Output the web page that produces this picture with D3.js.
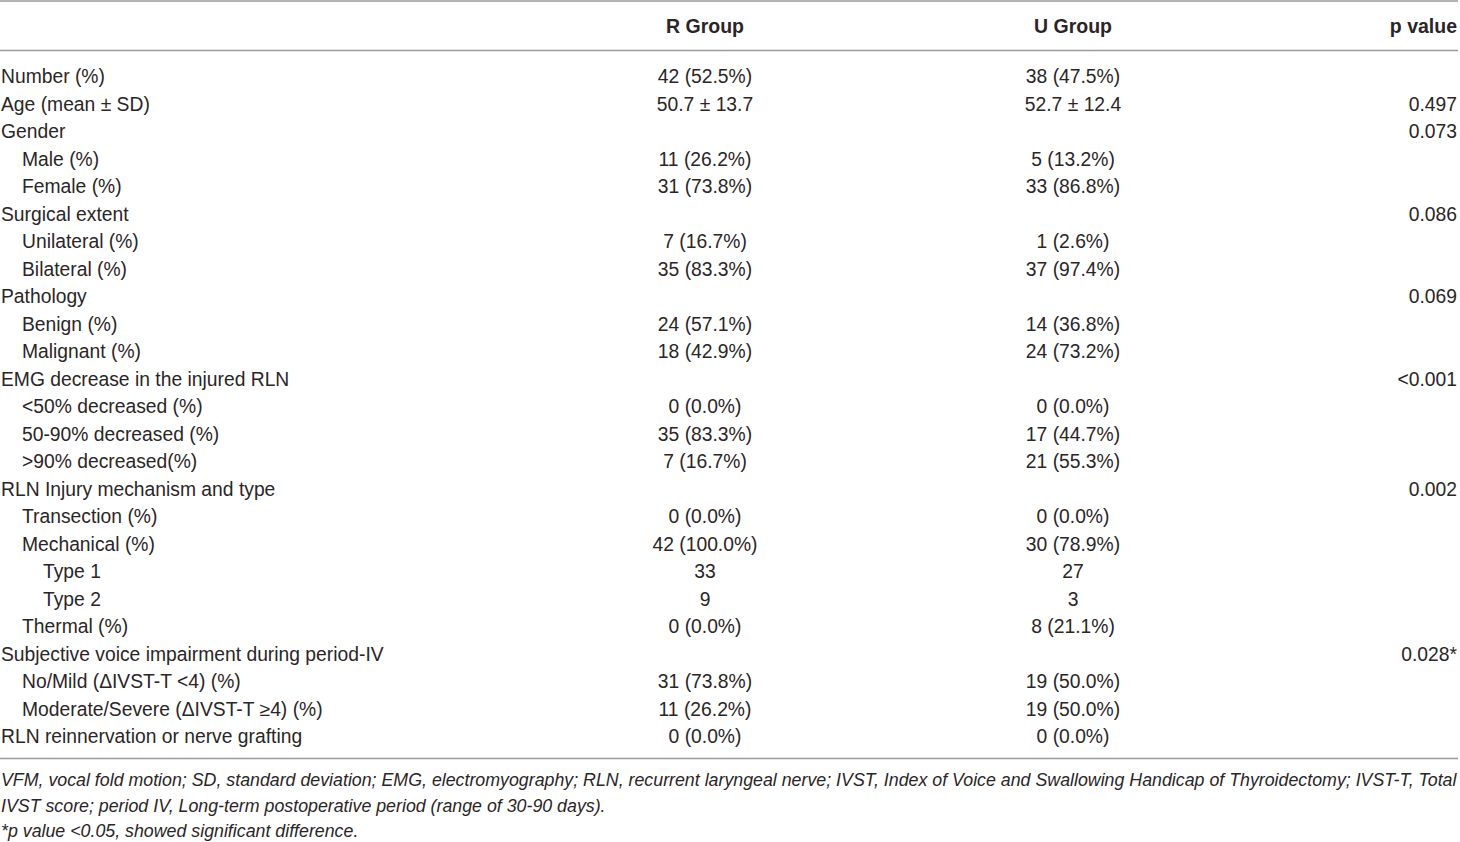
<!DOCTYPE html>
<html>
<head>
<meta charset="utf-8">
<script src="https://cdn.jsdelivr.net/npm/d3@7"></script>
<style>
  body { margin: 0; background: #fff; }
  svg text { font-family: "Liberation Sans", Arial, sans-serif; fill: #2a2627; }
</style>
</head>
<body>
<div id="chart"></div>
<script>
const headers = ["", "R Group", "U Group", "p value"];

const labels = [
  "Number (%)", "Age (mean \u00b1 SD)", "Gender", "Male (%)", "Female (%)",
  "Surgical extent", "Unilateral (%)", "Bilateral (%)", "Pathology", "Benign (%)",
  "Malignant (%)", "EMG decrease in the injured RLN", "<50% decreased (%)",
  "50-90% decreased (%)", ">90% decreased(%)", "RLN Injury mechanism and type",
  "Transection (%)", "Mechanical (%)", "Type 1", "Type 2", "Thermal (%)",
  "Subjective voice impairment during period-IV", "No/Mild (\u0394IVST-T <4) (%)",
  "Moderate/Severe (\u0394IVST-T \u22654) (%)", "RLN reinnervation or nerve grafting"
];
const indent = [0,0,0,1,1, 0,1,1,0,1, 1,0,1,1,1, 0,1,1,2,2, 1,0,1,1,0];

const rGroup = [
  "42 (52.5%)", "50.7 \u00b1 13.7", "", "11 (26.2%)", "31 (73.8%)",
  "", "7 (16.7%)", "35 (83.3%)", "", "24 (57.1%)",
  "18 (42.9%)", "", "0 (0.0%)", "35 (83.3%)", "7 (16.7%)",
  "", "0 (0.0%)", "42 (100.0%)", "33", "9", "0 (0.0%)",
  "", "31 (73.8%)", "11 (26.2%)", "0 (0.0%)"
];
const uGroup = [
  "38 (47.5%)", "52.7 \u00b1 12.4", "", "5 (13.2%)", "33 (86.8%)",
  "", "1 (2.6%)", "37 (97.4%)", "", "14 (36.8%)",
  "24 (73.2%)", "", "0 (0.0%)", "17 (44.7%)", "21 (55.3%)",
  "", "0 (0.0%)", "30 (78.9%)", "27", "3", "8 (21.1%)",
  "", "19 (50.0%)", "19 (50.0%)", "0 (0.0%)"
];
const pValues = [
  "", "0.497", "0.073", "", "",
  "0.086", "", "", "0.069", "",
  "", "<0.001", "", "", "",
  "0.002", "", "", "", "", "",
  "0.028*", "", "", ""
];

const footnotes = [
  "VFM, vocal fold motion; SD, standard deviation; EMG, electromyography; RLN, recurrent laryngeal nerve; IVST, Index of Voice and Swallowing Handicap of Thyroidectomy; IVST-T, Total",
  "IVST score; period IV, Long-term postoperative period (range of 30-90 days).",
  "*p value <0.05, showed significant difference."
];

const width = 1460, height = 842;
const svg = d3.select("#chart").append("svg")
  .attr("width", width).attr("height", height);

const cols = ["label", "r", "u", "p"];
const x = d3.scaleOrdinal().domain(cols).range([1, 705, 1073, 1457]);
const anchor = d3.scaleOrdinal().domain(cols).range(["start", "middle", "middle", "end"]);
const y = d3.scalePoint().domain(d3.range(labels.length)).range([83, 743]);
const indentX = d3.scaleLinear().domain([0, 1]).range([0, 21]);

// rules
const rules = [1, 50.5, 758.5];
svg.append("g").selectAll("line").data(rules).join("line")
  .attr("x1", 0).attr("x2", 1458)
  .attr("y1", d => d).attr("y2", d => d)
  .attr("stroke", "#9a9a9a").attr("stroke-width", 1.6);

// header
svg.append("g").selectAll("text").data(headers).join("text")
  .attr("x", (d, i) => x(cols[i]))
  .attr("y", 33)
  .attr("text-anchor", (d, i) => anchor(cols[i]))
  .attr("font-size", 19.5)
  .attr("font-weight", "bold")
  .text(d => d);

// body rows
const rows = labels.map((l, i) => ({ i, cells: [l, rGroup[i], uGroup[i], pValues[i]] }));
const row = svg.append("g").selectAll("g").data(rows).join("g")
  .attr("transform", d => `translate(0,${y(d.i)})`);
row.selectAll("text").data(d => d.cells.map((v, c) => ({ v, c, i: d.i }))).join("text")
  .attr("x", d => x(cols[d.c]) + (d.c === 0 ? indentX(indent[d.i]) : 0))
  .attr("text-anchor", d => anchor(cols[d.c]))
  .attr("font-size", 19.3)
  .text(d => d.v);

// footnotes
const fy = d3.scalePoint().domain(d3.range(footnotes.length)).range([786, 837]);
svg.append("g").selectAll("text").data(footnotes).join("text")
  .attr("x", 1)
  .attr("y", (d, i) => fy(i))
  .attr("font-size", 17.8)
  .attr("font-style", "italic")
  .text(d => d);
</script>
</body>
</html>
